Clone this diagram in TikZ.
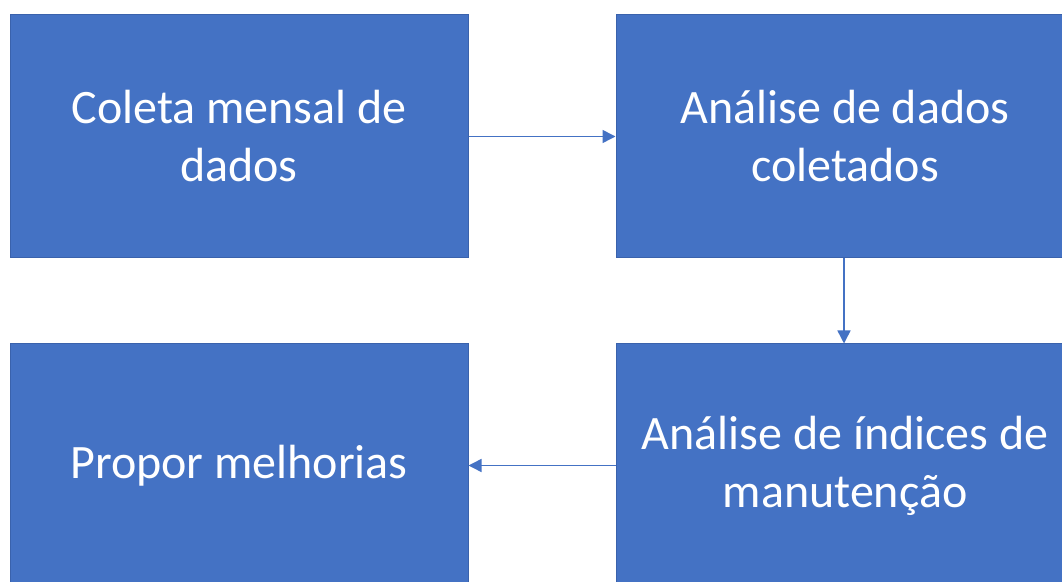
\documentclass[tikz,border=0pt]{standalone}
\usepackage{fontspec}
\setmainfont{Carlito}
\usetikzlibrary{arrows.meta}
\definecolor{boxblue}{HTML}{4472C4}
\definecolor{boxedge}{HTML}{3A62AC}
\begin{document}
\begin{tikzpicture}[x=1pt,y=1pt,
  stepbox/.style={draw=boxedge, line width=1pt, fill=boxblue, text=white,
    minimum width=458pt, minimum height=243pt, align=center,
    font=\fontsize{48}{58}\selectfont, inner sep=0pt},
  conn/.style={draw=boxblue, line width=1.5pt, -{Triangle[length=13pt,width=13pt]}}]
\useasboundingbox (0,0) rectangle (1062,581);
\clip (0,0) rectangle (1062,581);
\node[stepbox] (a) at (239,444.5) {Coleta mensal de\\dados};
\node[stepbox] (b) at (845,444.5) {Análise de dados\\coletados};
\node[stepbox] (c) at (845,115.5) {Análise de índices de\\manutenção};
\node[stepbox] (d) at (239,115.5) {Propor melhorias};
\draw[conn] (a.east) -- (b.west);
\draw[conn] ([xshift=-1pt]b.south) -- ([xshift=-1pt]c.north);
\draw[conn] (c.west) -- (d.east);
\end{tikzpicture}
\end{document}
